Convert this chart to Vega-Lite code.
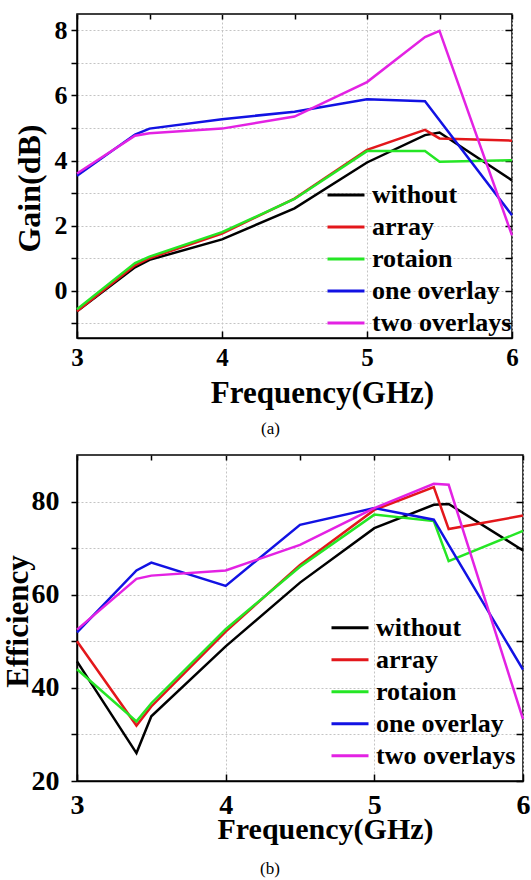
{
  "$schema": "https://vega.github.io/schema/vega-lite/v6.json",
  "padding": {"left": 1, "top": 12, "right": 0, "bottom": 0},
  "columns": 1,
  "spacing": 15,
  "background": "white",
  "config": {
    "view": {"stroke": "black", "strokeWidth": 1.5},
    "font": "Liberation Serif",
    "axis": {
      "labelFont": "Liberation Serif", "labelFontWeight": "bold", "labelColor": "black",
      "titleFont": "Liberation Serif", "titleFontWeight": "bold", "titleColor": "black",
      "domainColor": "black", "domainWidth": 1.5, "tickColor": "black", "tickWidth": 1.5,
      "gridColor": "#c4c4c4", "gridDash": [2, 2], "gridWidth": 1,
      "labelFlush": false, "labelOverlap": false
    },
    "legend": {
      "labelFont": "Liberation Serif", "labelFontWeight": "bold", "labelColor": "black",
      "symbolType": "stroke", "symbolStrokeWidth": 3, "labelLimit": 300, "padding": 0
    },
    "title": {"font": "Liberation Serif", "fontWeight": "normal", "color": "black"}
  },
  "resolve": {
    "scale": {"x": "independent", "y": "independent", "color": "independent"},
    "legend": {"color": "independent"}
  },
  "datasets": {
    "gain": [
      {"s": "without", "f": 3, "v": -0.63}, {"s": "without", "f": 3.4, "v": 0.72}, {"s": "without", "f": 3.5, "v": 0.95}, {"s": "without", "f": 4, "v": 1.58}, {"s": "without", "f": 4.5, "v": 2.53}, {"s": "without", "f": 5, "v": 3.94}, {"s": "without", "f": 5.4, "v": 4.78}, {"s": "without", "f": 5.5, "v": 4.86}, {"s": "without", "f": 6, "v": 3.39},
      {"s": "array", "f": 3, "v": -0.63}, {"s": "array", "f": 3.4, "v": 0.78}, {"s": "array", "f": 3.5, "v": 1.0}, {"s": "array", "f": 4, "v": 1.76}, {"s": "array", "f": 4.5, "v": 2.83}, {"s": "array", "f": 5, "v": 4.33}, {"s": "array", "f": 5.4, "v": 4.94}, {"s": "array", "f": 5.5, "v": 4.68}, {"s": "array", "f": 6, "v": 4.61},
      {"s": "rotaion", "f": 3, "v": -0.57}, {"s": "rotaion", "f": 3.4, "v": 0.85}, {"s": "rotaion", "f": 3.5, "v": 1.05}, {"s": "rotaion", "f": 4, "v": 1.8}, {"s": "rotaion", "f": 4.5, "v": 2.82}, {"s": "rotaion", "f": 5, "v": 4.29}, {"s": "rotaion", "f": 5.4, "v": 4.29}, {"s": "rotaion", "f": 5.5, "v": 3.96}, {"s": "rotaion", "f": 6, "v": 4.01},
      {"s": "one overlay", "f": 3, "v": 3.53}, {"s": "one overlay", "f": 3.4, "v": 4.8}, {"s": "one overlay", "f": 3.5, "v": 4.98}, {"s": "one overlay", "f": 4, "v": 5.27}, {"s": "one overlay", "f": 4.5, "v": 5.5}, {"s": "one overlay", "f": 5, "v": 5.88}, {"s": "one overlay", "f": 5.4, "v": 5.82}, {"s": "one overlay", "f": 5.5, "v": 5.24}, {"s": "one overlay", "f": 6, "v": 2.32},
      {"s": "two overlays", "f": 3, "v": 3.6}, {"s": "two overlays", "f": 3.4, "v": 4.76}, {"s": "two overlays", "f": 3.5, "v": 4.84}, {"s": "two overlays", "f": 4, "v": 4.98}, {"s": "two overlays", "f": 4.5, "v": 5.35}, {"s": "two overlays", "f": 5, "v": 6.41}, {"s": "two overlays", "f": 5.4, "v": 7.79}, {"s": "two overlays", "f": 5.5, "v": 7.98}, {"s": "two overlays", "f": 6, "v": 1.7}
    ],
    "eff": [
      {"s": "without", "f": 3, "v": 45.7}, {"s": "without", "f": 3.4, "v": 26.0}, {"s": "without", "f": 3.5, "v": 33.9}, {"s": "without", "f": 4, "v": 48.9}, {"s": "without", "f": 4.5, "v": 62.6}, {"s": "without", "f": 5, "v": 74.3}, {"s": "without", "f": 5.4, "v": 79.3}, {"s": "without", "f": 5.5, "v": 79.5}, {"s": "without", "f": 6, "v": 69.5},
      {"s": "array", "f": 3, "v": 50.0}, {"s": "array", "f": 3.4, "v": 31.9}, {"s": "array", "f": 3.5, "v": 36.0}, {"s": "array", "f": 4, "v": 52.1}, {"s": "array", "f": 4.5, "v": 66.4}, {"s": "array", "f": 5, "v": 78.2}, {"s": "array", "f": 5.4, "v": 83.1}, {"s": "array", "f": 5.5, "v": 74.1}, {"s": "array", "f": 6, "v": 77.0},
      {"s": "rotaion", "f": 3, "v": 44.0}, {"s": "rotaion", "f": 3.4, "v": 32.8}, {"s": "rotaion", "f": 3.5, "v": 36.7}, {"s": "rotaion", "f": 4, "v": 52.6}, {"s": "rotaion", "f": 4.5, "v": 66.0}, {"s": "rotaion", "f": 5, "v": 77.2}, {"s": "rotaion", "f": 5.4, "v": 75.8}, {"s": "rotaion", "f": 5.5, "v": 67.2}, {"s": "rotaion", "f": 6, "v": 73.7},
      {"s": "one overlay", "f": 3, "v": 51.9}, {"s": "one overlay", "f": 3.4, "v": 65.2}, {"s": "one overlay", "f": 3.5, "v": 66.9}, {"s": "one overlay", "f": 4, "v": 61.9}, {"s": "one overlay", "f": 4.5, "v": 75.0}, {"s": "one overlay", "f": 5, "v": 78.6}, {"s": "one overlay", "f": 5.4, "v": 76.1}, {"s": "one overlay", "f": 5.5, "v": 70.7}, {"s": "one overlay", "f": 6, "v": 43.9},
      {"s": "two overlays", "f": 3, "v": 52.5}, {"s": "two overlays", "f": 3.4, "v": 63.4}, {"s": "two overlays", "f": 3.5, "v": 64.1}, {"s": "two overlays", "f": 4, "v": 65.2}, {"s": "two overlays", "f": 4.5, "v": 70.7}, {"s": "two overlays", "f": 5, "v": 78.6}, {"s": "two overlays", "f": 5.4, "v": 83.8}, {"s": "two overlays", "f": 5.5, "v": 83.6}, {"s": "two overlays", "f": 6, "v": 33.3}
    ]
  },
  "concat": [
    {
      "width": 435, "height": 324,
      "data": {"name": "gain"},
      "title": {"text": "(a)", "orient": "bottom", "frame": "group", "anchor": "middle", "fontSize": 17, "dx": -24, "offset": 13},
      "resolve": {"axis": {"x": "independent", "y": "independent"}},
      "layer": [
        {
          "mark": {"type": "line", "strokeWidth": 2.5},
          "encoding": {
            "x": {"field": "f", "type": "quantitative", "scale": {"domain": [3, 6], "nice": false, "zero": false},
              "axis": {"orient": "bottom", "values": [3, 3.5, 4, 4.5, 5, 5.5, 6], "format": "d", "labelExpr": "datum.value % 1 == 0 ? datum.label : ''",
                "title": "Frequency(GHz)", "titleFontSize": 31, "labelFontSize": 25, "tickSize": -7, "labelPadding": 14, "titlePadding": 8, "titleX": 245, "grid": true}},
            "y": {"field": "v", "type": "quantitative", "scale": {"domain": [-1.45, 8.5], "nice": false, "zero": false},
              "axis": {"orient": "left", "values": [-1, 0, 1, 2, 3, 4, 5, 6, 7, 8], "labelExpr": "datum.value % 2 == 0 ? datum.label : ''",
                "title": "Gain(dB)", "titleFontSize": 32, "labelFontSize": 26, "tickSize": 6, "labelPadding": 4, "titlePadding": 8, "titleY": 174, "grid": true}},
            "color": {"field": "s", "type": "nominal",
              "scale": {"domain": ["without", "array", "rotaion", "one overlay", "two overlays"], "range": ["#000000", "#e3171b", "#25e625", "#1212e3", "#e322e3"]},
              "legend": {"orient": "none", "legendX": 249, "legendY": 165, "title": null, "symbolSize": 1369, "clipHeight": 31.8, "labelFontSize": 26, "labelOffset": 6, "rowPadding": 0}}
          }
        },
        {
          "mark": {"type": "point", "opacity": 0},
          "encoding": {
            "x": {"field": "f", "type": "quantitative", "axis": {"orient": "top", "values": [3, 3.5, 4, 4.5, 5, 5.5, 6], "labels": false, "grid": false, "domain": false, "tickSize": -5, "title": null}},
            "y": {"field": "v", "type": "quantitative", "axis": {"orient": "right", "values": [-1, 0, 1, 2, 3, 4, 5, 6, 7, 8], "labels": false, "grid": false, "domain": false, "tickSize": -7, "title": null}}
          }
        }
      ]
    },
    {
      "width": 446, "height": 326,
      "data": {"name": "eff"},
      "title": {"text": "(b)", "orient": "bottom", "frame": "group", "anchor": "middle", "fontSize": 17, "dx": -30, "offset": 17},
      "resolve": {"axis": {"x": "independent", "y": "independent"}},
      "layer": [
        {
          "mark": {"type": "line", "strokeWidth": 2.5},
          "encoding": {
            "x": {"field": "f", "type": "quantitative", "scale": {"domain": [3, 6], "nice": false, "zero": false},
              "axis": {"orient": "bottom", "values": [3, 3.5, 4, 4.5, 5, 5.5, 6], "format": "d", "labelExpr": "datum.value % 1 == 0 ? datum.label : ''",
                "title": "Frequency(GHz)", "titleFontSize": 30, "labelFontSize": 28, "tickSize": -7, "labelPadding": 17, "titlePadding": -5, "titleX": 248, "grid": true}},
            "y": {"field": "v", "type": "quantitative", "scale": {"domain": [20, 90], "nice": false, "zero": false},
              "axis": {"orient": "left", "values": [20, 30, 40, 50, 60, 70, 80], "labelExpr": "datum.value % 20 == 0 ? datum.label : ''",
                "title": "Efficiency", "titleFontSize": 31, "labelFontSize": 28, "tickSize": 6, "labelPadding": 12, "titlePadding": -3, "titleY": 166, "grid": true}},
            "color": {"field": "s", "type": "nominal",
              "scale": {"domain": ["without", "array", "rotaion", "one overlay", "two overlays"], "range": ["#000000", "#e3171b", "#25e625", "#1212e3", "#e322e3"]},
              "legend": {"orient": "none", "legendX": 253, "legendY": 157, "title": null, "symbolSize": 1369, "clipHeight": 31.4, "labelFontSize": 26, "labelOffset": 6, "rowPadding": 0}}
          }
        },
        {
          "mark": {"type": "point", "opacity": 0},
          "encoding": {
            "x": {"field": "f", "type": "quantitative", "axis": {"orient": "top", "values": [3, 3.5, 4, 4.5, 5, 5.5, 6], "labels": false, "grid": false, "domain": false, "tickSize": -5, "title": null}},
            "y": {"field": "v", "type": "quantitative", "axis": {"orient": "right", "values": [20, 30, 40, 50, 60, 70, 80], "labels": false, "grid": false, "domain": false, "tickSize": -7, "title": null}}
          }
        }
      ]
    }
  ]
}
